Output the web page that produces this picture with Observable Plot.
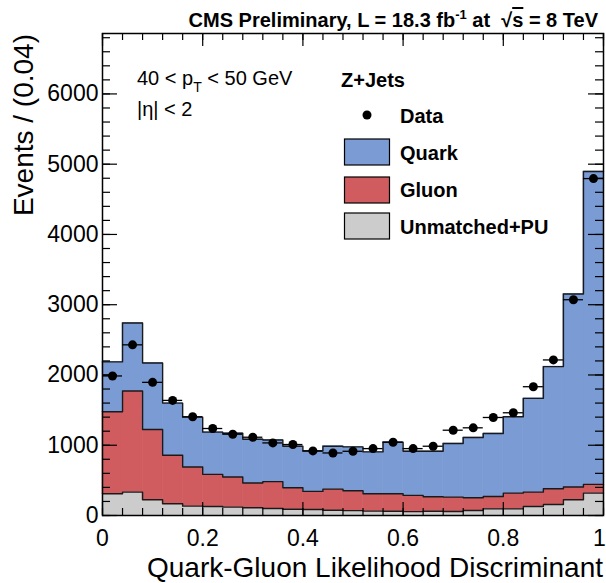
<!DOCTYPE html>
<html>
<head>
<meta charset="utf-8">
<script src="https://cdn.jsdelivr.net/npm/d3@7"></script>
<script src="https://cdn.jsdelivr.net/npm/@observablehq/plot@0.6"></script>
<style>
  html, body { margin: 0; padding: 0; background: #fff; }
  #chart { width: 606px; height: 583px; }
</style>
</head>
<body>
<div id="chart"></div>
<script>
// ---------- data ----------
const binEdges = [0, 0.04, 0.08, 0.12, 0.16, 0.2, 0.24, 0.28, 0.32, 0.36, 0.4, 0.44, 0.48,
  0.52, 0.56, 0.6, 0.64, 0.68, 0.72, 0.76, 0.8, 0.84, 0.88, 0.92, 0.96, 1];
const unmatched = [310, 333, 224, 167, 133, 129, 119, 110, 100, 90, 85, 75, 70, 62, 60, 55, 60, 57, 71, 95, 95, 129, 157, 224, 319];
const gluon = [1166, 1438, 1000, 690, 557, 457, 429, 352, 382, 305, 258, 301, 282, 248, 250, 231, 207, 205, 181, 176, 224, 204, 224, 181, 124];
const quark = [710, 969, 946, 743, 710, 600, 623, 624, 593, 591, 576, 610, 624, 595, 733, 628, 647, 762, 858, 896, 1086, 1334, 1738, 2747, 4453];
const dataCounts = [1986, 2429, 1895, 1638, 1405, 1238, 1157, 1114, 1033, 1010, 919, 890, 914, 952, 1043, 952, 986, 1214, 1248, 1395, 1462, 1833, 2214, 3071, 4795];
const seriesNames = ["Unmatched+PU", "Gluon", "Quark"];
const seriesColors = ["#cccccc", "#d05c5f", "#7a9bd3"];
const xTickValues = [0, 0.2, 0.4, 0.6, 0.8, 1];
const xMinorTicks = [0, 0.04, 0.08, 0.12, 0.16, 0.2, 0.24, 0.28, 0.32, 0.36, 0.4, 0.44, 0.48,
  0.52, 0.56, 0.6, 0.64, 0.68, 0.72, 0.76, 0.8, 0.84, 0.88, 0.92, 0.96, 1];
const yTickValues = [0, 1000, 2000, 3000, 4000, 5000, 6000];
const yMinorTicks = [0, 200, 400, 600, 800, 1000, 1200, 1400, 1600, 1800, 2000, 2200, 2400, 2600, 2800,
  3000, 3200, 3400, 3600, 3800, 4000, 4200, 4400, 4600, 4800, 5000, 5200, 5400, 5600, 5800, 6000, 6200, 6400, 6600, 6800];

// ---------- tables ----------
const seriesValues = [unmatched, gluon, quark];
const stackRows = [];
seriesNames.forEach((name, s) => {
  seriesValues[s].forEach((v, i) => {
    stackRows.push({series: name, lo: binEdges[i], hi: binEdges[i + 1], value: v});
  });
});
// step outlines of cumulative levels
const outline = [];
seriesNames.forEach((name, s) => {
  for (let i = 0; i < binEdges.length - 1; i++) {
    let cum = 0;
    for (let k = 0; k <= s; k++) cum += seriesValues[k][i];
    outline.push({level: name, x: binEdges[i], y: cum});
    outline.push({level: name, x: binEdges[i + 1], y: cum});
  }
});
const dataRows = dataCounts.map((v, i) => ({lo: binEdges[i], hi: binEdges[i + 1], mid: (binEdges[i] + binEdges[i + 1]) / 2, value: v}));

const W = 606, H = 583, mL = 102, mR = 3, mT = 33, mB = 68;
const innerW = W - mL - mR, innerH = H - mT - mB;
const fmtX = d => d === 0 ? "0" : d === 1 ? "1" : d.toFixed(1);

const chart = Plot.plot({
  width: W, height: H,
  marginLeft: mL, marginRight: mR, marginTop: mT, marginBottom: mB,
  x: {domain: [0, 1], axis: null},
  y: {domain: [0, 6860], axis: null},
  color: {domain: seriesNames, range: seriesColors},
  style: {fontFamily: "'Liberation Sans', Arial, Helvetica, sans-serif", background: "#fff", color: "#000"},
  marks: [
    Plot.rectY(stackRows, {x1: "lo", x2: "hi", y: "value", fill: "series", stroke: "series", strokeWidth: 0.6, z: "series"}),
    Plot.line(outline, {x: "x", y: "y", z: "level", stroke: "#1a1a1a", strokeWidth: 1.4}),
    Plot.ruleY(dataRows, {y: "value", x1: "lo", x2: "hi", stroke: "#000", strokeWidth: 1.3}),
    Plot.dot(dataRows, {x: "mid", y: "value", r: 4.5, fill: "#000", stroke: "none"}),
    // inward ticks, bottom & top
    Plot.tickX(xTickValues, {x: d => d, insetTop: innerH - 13, stroke: "#000", strokeWidth: 1.2}),
    Plot.tickX(xMinorTicks, {x: d => d, insetTop: innerH - 7, stroke: "#000", strokeWidth: 1.2}),
    Plot.tickX(xTickValues, {x: d => d, insetBottom: innerH - 13, stroke: "#000", strokeWidth: 1.2}),
    Plot.tickX(xMinorTicks, {x: d => d, insetBottom: innerH - 7, stroke: "#000", strokeWidth: 1.2}),
    // inward ticks, left & right
    Plot.tickY(yTickValues, {y: d => d, insetRight: innerW - 15, stroke: "#000", strokeWidth: 1.2}),
    Plot.tickY(yMinorTicks, {y: d => d, insetRight: innerW - 8, stroke: "#000", strokeWidth: 1.2}),
    Plot.tickY(yTickValues, {y: d => d, insetLeft: innerW - 15, stroke: "#000", strokeWidth: 1.2}),
    Plot.tickY(yMinorTicks, {y: d => d, insetLeft: innerW - 8, stroke: "#000", strokeWidth: 1.2}),
    Plot.frame({stroke: "#000", strokeWidth: 1.5}),
    Plot.axisX(xTickValues.filter(d => d < 1), {tickSize: 0, tickPadding: 14, fontSize: 23, label: null, tickFormat: fmtX}),
    Plot.axisX(xTickValues.filter(d => d === 1), {tickSize: 0, tickPadding: 14, fontSize: 23, label: null, tickFormat: fmtX, dx: -4}),
    Plot.axisY(yTickValues, {tickSize: 0, tickPadding: 4, fontSize: 23, label: null, tickFormat: d => String(d)})
  ]
});
document.getElementById("chart").appendChild(chart);

// ---------- texts ----------
const svg = d3.select(chart);
const FF = "'Liberation Sans', Arial, Helvetica, sans-serif";
const addText = (x, y, txt, opts = {}) => svg.append("text")
  .attr("x", x).attr("y", y)
  .attr("font-family", FF)
  .attr("font-size", opts.size || 20)
  .attr("font-weight", opts.bold ? "bold" : "normal")
  .attr("text-anchor", opts.anchor || "start")
  .attr("fill", "#000")
  .text(txt);

// title
const t = svg.append("text").attr("x", 598).attr("y", 27).attr("text-anchor", "end")
  .attr("font-family", FF).attr("font-size", 20).attr("font-weight", "bold");
t.append("tspan").text("CMS Preliminary, L = 18.3 fb");
t.append("tspan").attr("dy", -8).attr("font-size", 13).text("-1");
t.append("tspan").attr("dy", 8).text(" at  \u221A");
t.append("tspan").attr("text-decoration", "overline").text("s");
t.append("tspan").text(" = 8 TeV");

// axis titles
addText(603, 577, "Quark-Gluon Likelihood Discriminant", {size: 28, anchor: "end"});
svg.append("text").attr("transform", "translate(33,34) rotate(-90)")
  .attr("text-anchor", "end").attr("font-family", FF).attr("font-size", 28)
  .text("Events / (0.04)");

// kinematic selection
const pt = svg.append("text").attr("x", 137).attr("y", 85).attr("text-anchor", "start")
  .attr("font-family", FF).attr("font-size", 20);
pt.append("tspan").text("40 < p");
pt.append("tspan").attr("dy", 7).attr("font-size", 14).text("T");
pt.append("tspan").attr("dy", -7).text(" < 50 GeV");
addText(137, 116, "|\u03B7| < 2", {size: 20});

// legend
addText(341, 87, "Z+Jets", {size: 20, bold: true});
svg.append("circle").attr("cx", 367).attr("cy", 115).attr("r", 4.5).attr("fill", "#000");
addText(400, 123, "Data", {size: 20, bold: true});
const legendItems = [
  {name: "Quark", color: seriesColors[2], y: 139, base: 160},
  {name: "Gluon", color: seriesColors[1], y: 177, base: 197},
  {name: "Unmatched+PU", color: seriesColors[0], y: 213, base: 234}
];
legendItems.forEach(it => {
  svg.append("rect").attr("x", 344.5).attr("y", it.y).attr("width", 45).attr("height", 26)
    .attr("fill", it.color).attr("stroke", "#000").attr("stroke-width", 1.2);
  addText(400, it.base, it.name, {size: 20, bold: true});
});
</script>
</body>
</html>
